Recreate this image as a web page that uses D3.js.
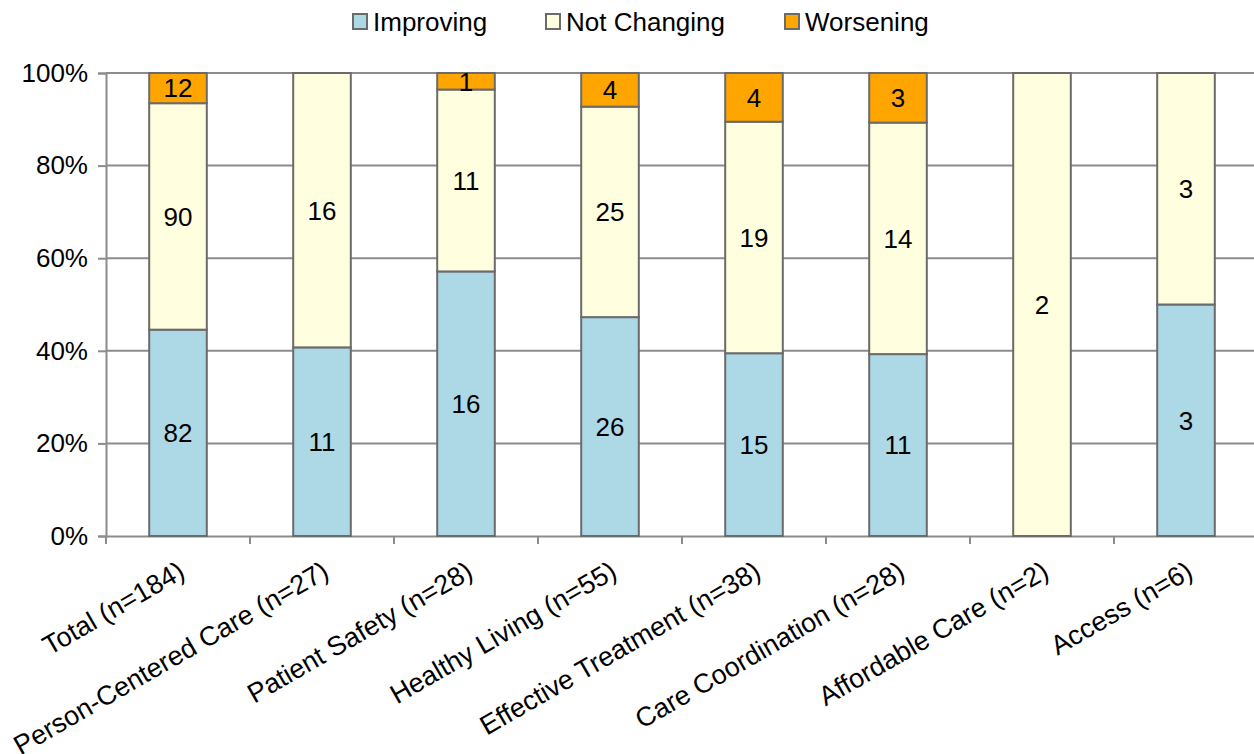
<!DOCTYPE html>
<html>
<head>
<meta charset="UTF-8">
<title>Measure trends</title>
<style>
  body { margin: 0; background: #fff; }
  svg { display: block; font-family: "Liberation Sans", Arial, sans-serif; }
</style>
</head>
<body>
<svg id="chart"></svg>
<script src="https://cdn.jsdelivr.net/npm/d3@7/dist/d3.min.js"></script>
<script>
var categories = ["Total (n=184)", "Person-Centered Care (n=27)", "Patient Safety (n=28)",
  "Healthy Living (n=55)", "Effective Treatment (n=38)", "Care Coordination (n=28)",
  "Affordable Care (n=2)", "Access (n=6)"];
var seriesNames = ["Improving", "Not Changing", "Worsening"];
var improving   = [82, 11, 16, 26, 15, 11, 0, 3];
var notChanging = [90, 16, 11, 25, 19, 14, 2, 3];
var worsening   = [12, 0, 1, 4, 4, 3, 0, 0];
var yTicks = [0, 0.2, 0.4, 0.6, 0.8, 1];
var colors = ["#add8e6", "#ffffe0", "#ffa500"];

var W = 1254, H = 754;
var mLeft = 106, mRight = 1258, mTop = 73, mBottom = 536;
var fs = 26;

var svg = d3.select("#chart").attr("width", W).attr("height", H);

var rows = categories.map(function(c, i) {
  return { cat: c, "Improving": improving[i], "Not Changing": notChanging[i], "Worsening": worsening[i] };
});
var stack = d3.stack().keys(seriesNames).offset(d3.stackOffsetExpand);
var layers = stack(rows);

var x = d3.scaleBand().domain(categories).range([mLeft, mRight]).paddingInner(0).paddingOuter(0);
var y = d3.scaleLinear().domain([0, 1]).range([mBottom, mTop]);
var barW = x.bandwidth() * 0.4;

svg.append("defs").append("clipPath").attr("id", "plotclip")
  .append("rect").attr("x", mLeft).attr("y", mTop).attr("width", mRight - mLeft).attr("height", mBottom - mTop);

// gridlines
svg.append("g").selectAll("line").data(yTicks.filter(function(t) { return t > 0; })).enter()
  .append("line")
  .attr("x1", mLeft).attr("x2", mRight)
  .attr("y1", function(d) { return y(d); }).attr("y2", function(d) { return y(d); })
  .attr("stroke", "#8c8c8c").attr("stroke-width", 2);

// y axis
var yAxis = d3.axisLeft(y).tickValues(yTicks).tickFormat(d3.format(".0%")).tickSize(8).tickPadding(10);
var gy = svg.append("g").attr("transform", "translate(" + mLeft + ",0)").call(yAxis);
gy.select(".domain").attr("stroke", "#8c8c8c").attr("stroke-width", 2);
gy.selectAll(".tick line").attr("stroke", "#8c8c8c").attr("stroke-width", 2);
gy.selectAll(".tick text").attr("font-size", fs).attr("fill", "#000")
  .attr("font-family", "'Liberation Sans', Arial, sans-serif");

// x axis
var xAxis = d3.axisBottom(x).tickSize(0).tickFormat("");
var gx = svg.append("g").attr("transform", "translate(0," + mBottom + ")").call(xAxis);
gx.select(".domain").attr("stroke", "#8c8c8c").attr("stroke-width", 2);
var bounds = categories.map(function(c) { return x(c); });
bounds.push(mRight);
gx.selectAll(".sep").data(bounds).enter().append("line")
  .attr("x1", function(d) { return d; }).attr("x2", function(d) { return d; })
  .attr("y1", 0).attr("y2", 8)
  .attr("stroke", "#8c8c8c").attr("stroke-width", 2);

// bars
var g = svg.append("g");
layers.forEach(function(layer, li) {
  g.append("g").selectAll("rect").data(layer).enter().append("rect")
    .attr("x", function(d) { return x(d.data.cat) + (x.bandwidth() - barW) / 2; })
    .attr("width", barW)
    .attr("y", function(d) { return y(d[1]); })
    .attr("height", function(d) { return y(d[0]) - y(d[1]); })
    .attr("fill", colors[li])
    .attr("stroke", function(d) { return d[1] - d[0] > 0 ? "#6b6b6b" : "none"; })
    .attr("stroke-width", 2);
});

// data labels
var lg = svg.append("g").attr("clip-path", "url(#plotclip)");
layers.forEach(function(layer) {
  var key = layer.key;
  lg.append("g").selectAll("text").data(layer.filter(function(d) { return d.data[key] > 0; })).enter()
    .append("text")
    .attr("x", function(d) { return x(d.data.cat) + x.bandwidth() / 2; })
    .attr("y", function(d) { return (y(d[0]) + y(d[1])) / 2; })
    .attr("dy", "0.36em")
    .attr("text-anchor", "middle")
    .attr("font-size", fs)
    .text(function(d) { return d.data[key]; });
});

// category labels
svg.append("g").selectAll("text").data(categories).enter().append("text")
  .attr("transform", function(d) { return "translate(" + (x(d) + x.bandwidth() / 2 - 1) + "," + (mBottom + 24) + ") rotate(-30)"; })
  .attr("text-anchor", "end")
  .attr("dy", "0.71em")
  .attr("font-size", 27)
  .text(function(d) { return d; });

// legend
var legX = [353, 546, 785];
var leg = svg.append("g").selectAll("g").data(seriesNames).enter().append("g")
  .attr("transform", function(d, i) { return "translate(" + legX[i] + ",14)"; });
leg.append("rect").attr("width", 14).attr("height", 15)
  .attr("fill", function(d, i) { return colors[i]; })
  .attr("stroke", "#6b6b6b").attr("stroke-width", 2);
leg.append("text").attr("x", 20).attr("y", 8).attr("dy", "0.36em")
  .attr("font-size", fs).text(function(d) { return d; });
</script>
</body>
</html>
